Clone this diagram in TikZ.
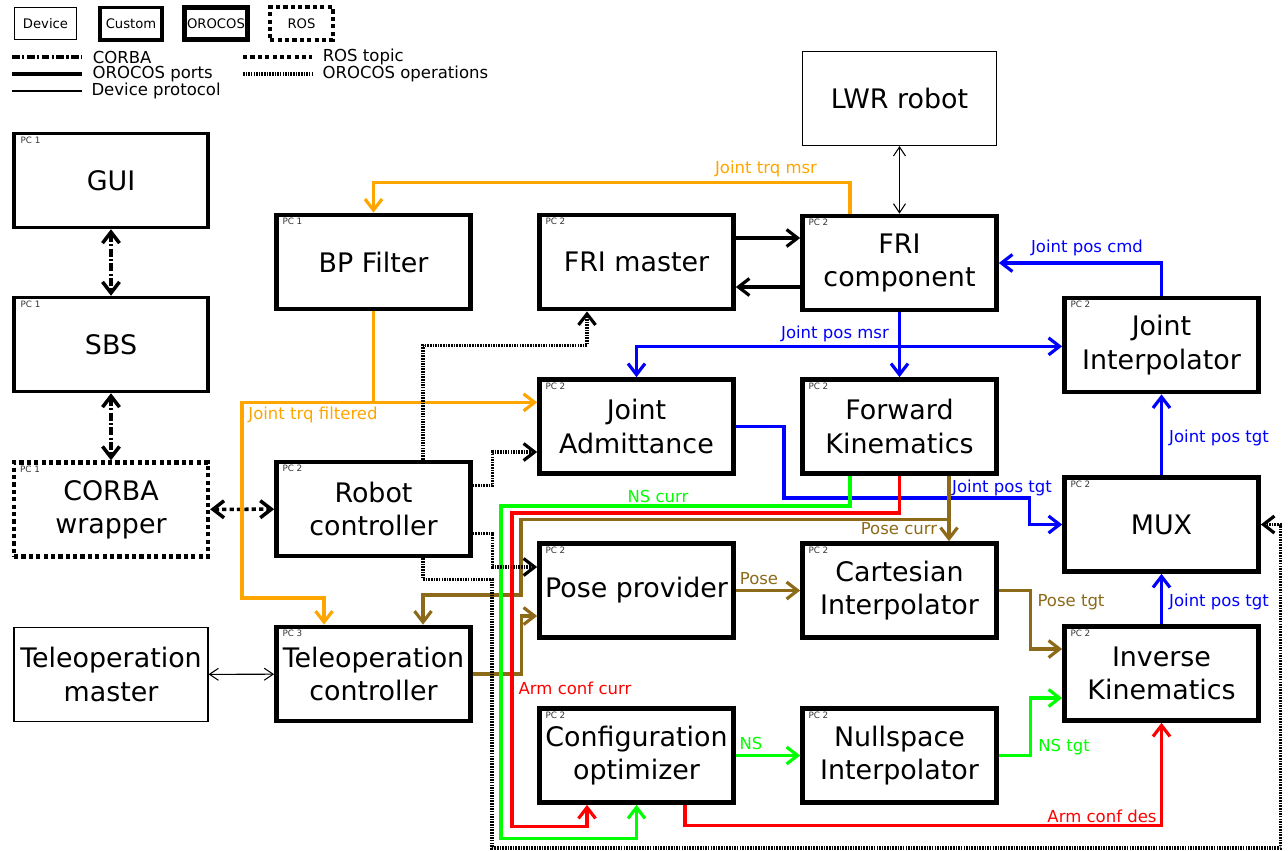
\documentclass[tikz,border=0pt]{standalone}
\usepackage{fontspec}
\setmainfont{DejaVu Sans}
\usetikzlibrary{arrows.meta}
\definecolor{archOrange}{HTML}{FFA500}
\definecolor{archBlue}{HTML}{0000FF}
\definecolor{archGreen}{HTML}{00FF00}
\definecolor{archRed}{HTML}{FF0000}
\definecolor{archBrown}{HTML}{8C6A1A}
\tikzset{
  arch box/.style={rectangle, minimum width=3.88cm, minimum height=1.88cm, inner sep=0pt, align=center, font=\fontsize{15.3}{19}\selectfont},
  arch device/.style={arch box, draw, line width=0.6pt},
  arch custom/.style={arch box, draw, line width=2pt},
  arch orocos/.style={arch box, draw, line width=2.7pt},
  arch ros/.style={arch box, draw, line width=2.5pt, dash pattern=on 2.4pt off 1.8pt},
  arch key/.style={minimum width=1.25cm, minimum height=0.65cm, font=\fontsize{7.5}{9}\selectfont},
  arch pc/.style={anchor=north west, inner sep=0pt, xshift=0.16cm, yshift=-0.1cm, font=\fontsize{5}{5}\selectfont, text=black!80},
  arch port/.style={draw, line width=1.8pt},
  arch proto/.style={draw, line width=0.6pt, >={Straight Barb[length=1.8mm, width=2.4mm]}},
  arch corba/.style={draw, line width=2pt, dash pattern=on 4.5pt off 1.3pt on 1.3pt off 1.3pt},
  arch topic/.style={draw, line width=2pt, dash pattern=on 2.4pt off 1.8pt},
  arch op/.style={draw, line width=1.8pt, dash pattern=on 0.9pt off 0.6pt},
  arch tag/.style={inner sep=0pt, font=\fontsize{9.4}{11}\selectfont},
  arch legend/.style={right=0.18cm, inner sep=0pt, font=\fontsize{9.4}{11}\selectfont},
}

\begin{document}
\begin{tikzpicture}[x=0.02cm, y=-0.02cm, >={Straight Barb[length=2.2mm, width=3.4mm]}]
  \useasboundingbox (0,0) rectangle (1288,850);
  % Legend
  \node[arch device, arch key] (keydevice) at (45.5,23.5) {Device};
  \node[arch custom, arch key] (keycustom) at (131,23.5) {Custom};
  \node[arch orocos, arch key] (keyorocos) at (216,23.5) {OROCOS};
  \node[arch ros, arch key] (keyros) at (301.5,23.5) {ROS};
  \draw[arch corba] (12,57) -- (82,57) node[arch legend] (keycorbaline) {CORBA};
  \draw[arch port] (12,74) -- (82,74) node[arch legend] (keyportline) {OROCOS ports};
  \draw[arch proto] (12,91) -- (82,91) node[arch legend] (keyprotoline) {Device protocol};
  \draw[arch topic] (243,57) -- (312,57) node[arch legend] (keytopicline) {ROS topic};
  \draw[arch op] (243,74) -- (312,74) node[arch legend] (keyopline) {OROCOS operations};

  % Blocks
  \node[arch custom, label={[arch pc]north west:PC 1}] (gui) at (111,180.5) {GUI};
  \node[arch custom, label={[arch pc]north west:PC 1}] (sbs) at (111,344.5) {SBS};
  \node[arch ros, label={[arch pc]north west:PC 1}] (wrapper) at (111,509.5) {CORBA\\wrapper};
  \node[arch device] (telemaster) at (111,674.5) {Teleoperation\\master};
  \node[arch orocos, label={[arch pc]north west:PC 1}] (bpfilter) at (373.5,262) {BP Filter};
  \node[arch orocos, label={[arch pc]north west:PC 2}] (robctrl) at (373.5,509) {Robot\\controller};
  \node[arch orocos, label={[arch pc]north west:PC 3}] (telectrl) at (373.5,674) {Teleoperation\\controller};
  \node[arch orocos, label={[arch pc]north west:PC 2}] (frimaster) at (636.5,262) {FRI master};
  \node[arch orocos, label={[arch pc]north west:PC 2}] (jointadm) at (636.5,426.5) {Joint\\Admittance};
  \node[arch orocos, label={[arch pc]north west:PC 2}] (posepro) at (636.5,590.5) {Pose provider};
  \node[arch orocos, label={[arch pc]north west:PC 2}] (confopt) at (636.5,755.5) {Configuration\\optimizer};
  \node[arch device] (lwr) at (899.5,98.5) {LWR robot};
  \node[arch orocos, label={[arch pc]north west:PC 2}] (fricomp) at (899.5,263) {FRI\\component};
  \node[arch orocos, label={[arch pc]north west:PC 2}] (fwdkin) at (899.5,426.5) {Forward\\Kinematics};
  \node[arch orocos, label={[arch pc]north west:PC 2}] (cartint) at (899.5,590.5) {Cartesian\\Interpolator};
  \node[arch orocos, label={[arch pc]north west:PC 2}] (nullint) at (899.5,755.5) {Nullspace\\Interpolator};
  \node[arch orocos, label={[arch pc]north west:PC 2}] (jointint) at (1161.5,345) {Joint\\Interpolator};
  \node[arch orocos, label={[arch pc]north west:PC 2}] (mux) at (1161.5,524.5) {MUX};
  \node[arch orocos, label={[arch pc]north west:PC 2}] (invkin) at (1161.5,673.5) {Inverse\\Kinematics};

  % CORBA, ROS and device links
  \draw[arch corba, <->] (gui) -- (sbs);
  \draw[arch corba, <->] (sbs) -- (wrapper);
  \draw[arch topic, <->] (wrapper) -- (robctrl);
  \draw[arch proto, <->] (telemaster) -- (telectrl);
  \draw[arch proto, <->] (lwr) -- (fricomp);

  % FRI ports
  \draw[arch port, ->] (frimaster.east |- 0,238) -- (fricomp.west |- 0,238);
  \draw[arch port, ->] (fricomp.west |- 0,287) -- (frimaster.east |- 0,287);

  % Torques
  \draw[arch port, archOrange, ->] ([xshift=-0.99cm]fricomp.north) -- ++(0,-31) -| (bpfilter.north);
  \draw[arch port, archOrange, ->] (bpfilter.south) -- ++(0,91) coordinate (trqsplit) -- (jointadm.west |- trqsplit);
  \draw[arch port, archOrange, ->] (trqsplit) -| (242,598) -| ([xshift=-0.99cm]telectrl.north);

  % Joint positions
  \coordinate (msrsplit) at ([yshift=-0.68cm]fricomp.south);
  \draw[arch port, archBlue, ->] (fricomp) -- (fwdkin);
  \draw[arch port, archBlue, ->] (msrsplit) -| (jointadm.north);
  \draw[arch port, archBlue, ->] (msrsplit) -- (jointint.west |- msrsplit);
  \draw[arch port, archBlue, ->] (jointint.north) |- (fricomp.east);
  \draw[arch port, archBlue, ->] (jointadm.east) -| (784,498) -| ([xshift=-0.66cm]mux.west) -- (mux.west);
  \draw[arch port, archBlue, ->] (mux) -- (jointint);
  \draw[arch port, archBlue, ->] (invkin) -- (mux);

  % Poses
  \coordinate (posesplit) at ([xshift=0.99cm, yshift=-0.88cm]fwdkin.south);
  \draw[arch port, archBrown, ->] (posepro) -- (cartint);
  \draw[arch port, archBrown, ->] (cartint.east) -- ++(32,0) |- ([yshift=0.49cm]invkin.west);
  \draw[arch port, archBrown, ->] ([xshift=0.99cm]fwdkin.south) -- ([xshift=0.99cm]cartint.north);
  \draw[arch port, archBrown, ->] (posesplit) -| (521,595) -| ([xshift=0.99cm]telectrl.north);
  \draw[arch port, archBrown, ->] (telectrl.east) -- ++(49,0) |- ([yshift=-0.51cm]posepro.west);

  % Nullspace and arm configuration
  \draw[arch port, archGreen, ->] (confopt) -- (nullint);
  \draw[arch port, archGreen, ->] (nullint.east) -- ++(32,0) |- ([yshift=-0.49cm]invkin.west);
  \draw[arch port, archGreen, ->] ([xshift=-0.99cm]fwdkin.south) |- (501,506) |- ([yshift=-0.68cm]confopt.south) -- (confopt.south);
  \draw[arch port, archRed, ->] (fwdkin.south) |- (512,513) |- ([xshift=-0.99cm, yshift=-0.44cm]confopt.south) -- ([xshift=-0.99cm]confopt.south);
  \draw[arch port, archRed, ->] ([xshift=0.97cm]confopt.south) -- ++(0,21) -| (invkin.south);

  % Operations called by the robot controller
  \draw[arch op, ->] ([xshift=0.99cm]robctrl.north) |- ([xshift=-0.99cm, yshift=-0.68cm]frimaster.south) -- ([xshift=-0.99cm]frimaster.south);
  \draw[arch op, ->] ([yshift=0.47cm]robctrl.east) -- ++(20,0) |- ([yshift=-0.51cm]jointadm.west);
  \draw[arch op, ->] ([yshift=-0.49cm]robctrl.east) -- ++(20,0) |- ([yshift=0.47cm]posepro.west);
  \draw[arch op, ->] ([xshift=0.99cm]robctrl.south) -- ++(0,21) -| (492,848) -| ([xshift=0.4cm]mux.east) -- (mux.east);

  % Signal names
  \node[arch tag, text=archOrange] (tagtrqmsr) at (766,169) {Joint trq msr};
  \node[arch tag, text=archOrange] (tagtrqfilt) at (313,415) {Joint trq filtered};
  \node[arch tag, text=archBlue] (tagposmsr) at (835,334) {Joint pos msr};
  \node[arch tag, text=archBlue] (tagposcmd) at (1087,248) {Joint pos cmd};
  \node[arch tag, text=archBlue] (tagtgtadm) at (1002,488) {Joint pos tgt};
  \node[arch tag, text=archBlue] (tagtgtmux) at (1219,438) {Joint pos tgt};
  \node[arch tag, text=archBlue] (tagtgtik) at (1219,602) {Joint pos tgt};
  \node[arch tag, text=archBrown] (tagpose) at (759,579) {Pose};
  \node[arch tag, text=archBrown] (tagposetgt) at (1071,602) {Pose tgt};
  \node[arch tag, text=archBrown] (tagposecurr) at (899,529) {Pose curr};
  \node[arch tag, text=archGreen] (tagns) at (751,743) {NS};
  \node[arch tag, text=archGreen] (tagnstgt) at (1064,747) {NS tgt};
  \node[arch tag, text=archGreen] (tagnscurr) at (658,496) {NS curr};
  \node[arch tag, text=archRed] (tagconfcurr) at (575,688) {Arm conf curr};
  \node[arch tag, text=archRed] (tagconfdes) at (1102,816) {Arm conf des};
\end{tikzpicture}
\end{document}
